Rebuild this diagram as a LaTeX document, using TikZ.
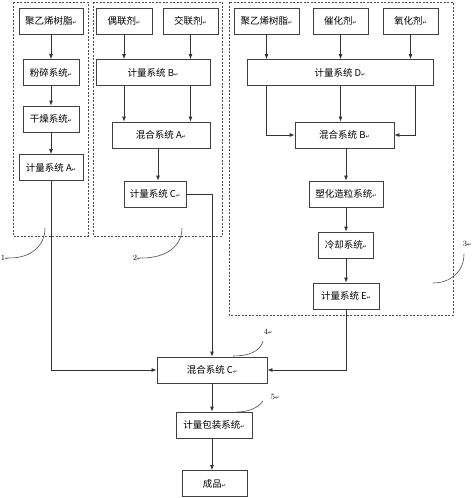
\documentclass[tikz,border=0pt]{standalone}
\usepackage{fontspec}
\newfontfamily\cjk{Noto Sans CJK SC}
\newfontfamily\simbolo{DejaVu Sans}
\usetikzlibrary{arrows.meta}
\newcommand{\retorno}{{\simbolo\fontsize{5}{5}\selectfont ↵}}

\begin{document}
\begin{tikzpicture}[x=1pt,y=-1pt,
    caja/.style={draw=black!75,line width=0.8pt,minimum height=26pt,inner sep=0pt,
      font=\cjk\fontsize{9.5}{10}\selectfont},
    flecha/.style={-{Latex[length=5pt,width=4pt]},line width=0.8pt,draw=black!80},
    grupo/.style={draw=black!70,line width=0.7pt,dash pattern=on 2pt off 1.5pt},
    guia/.style={line width=0.6pt,draw=black!70},
    marca/.style={inner sep=0pt,font=\fontsize{8}{9}\selectfont}]
    \useasboundingbox (0,0) rectangle (474,498);
    % Grupos punteados
    \draw[grupo] (13,2) rectangle (88,236);
    \draw[grupo] (93,2) rectangle (222,236);
    \draw[grupo] (229,2) rectangle (453,315);
    % Linea de resina
    \node[caja,minimum width=64pt] (resina1) at (51,21) {聚乙烯树脂\retorno};
    \node[caja,minimum width=56pt] (polvo) at (51,72.5) {粉碎系统\retorno};
    \node[caja,minimum width=56pt] (seco) at (51,119) {干燥系统\retorno};
    \node[caja,minimum width=64pt] (medA) at (51,167.5) {计量系统 A\retorno};
    % Linea de aditivos
    \node[caja,minimum width=56pt] (acopl) at (124,21) {偶联剂\retorno};
    \node[caja,minimum width=55pt] (reticul) at (190.5,21) {交联剂\retorno};
    \node[caja,minimum width=114pt] (medB) at (153,72.5) {计量系统 B\retorno};
    \node[caja,minimum width=98pt] (mezA) at (161,135) {混合系统 A\retorno};
    \node[caja,minimum width=62pt] (medC) at (155,194) {计量系统 C\retorno};
    % Linea de granulado
    \node[caja,minimum width=65pt] (resina2) at (266.5,21) {聚乙烯树脂\retorno};
    \node[caja,minimum width=55pt] (catal) at (340.5,21) {催化剂\retorno};
    \node[caja,minimum width=55pt] (oxid) at (410.5,21) {氧化剂\retorno};
    \node[caja,minimum width=186pt] (medD) at (340,72.5) {计量系统 D\retorno};
    \node[caja,minimum width=99pt] (mezB) at (344.5,135) {混合系统 B\retorno};
    \node[caja,minimum width=74pt] (plast) at (346,194) {塑化造粒系统\retorno};
    \node[caja,minimum width=55pt] (enfr) at (346,245) {冷却系统\retorno};
    \node[caja,minimum width=66pt] (medE) at (346,296) {计量系统 E\retorno};
    % Salida comun
    \node[caja,minimum width=110pt] (mezC) at (212,370) {混合系统 C\retorno};
    \node[caja,minimum width=76pt] (paq) at (214,425) {计量包装系统\retorno};
    \node[caja,minimum width=65pt] (prod) at (214.5,483.5) {成品\retorno};
    % Flechas
    \draw[flecha] (resina1) -- (polvo);
    \draw[flecha] (polvo) -- (seco);
    \draw[flecha] (seco) -- (medA);
    \draw[flecha] (acopl.south) -- (acopl.south |- medB.north);
    \draw[flecha] (reticul.south) -- (reticul.south |- medB.north);
    \draw[flecha] (acopl.south |- medB.south) -- (acopl.south |- mezA.north);
    \draw[flecha] (reticul.south |- medB.south) -- (reticul.south |- mezA.north);
    \draw[flecha] ([xshift=3pt]medC.north |- mezA.south) -- ([xshift=3pt]medC.north);
    \draw[flecha] (resina2.south) -- (resina2.south |- medD.north);
    \draw[flecha] (catal.south) -- (catal.south |- medD.north);
    \draw[flecha] (oxid.south) -- (oxid.south |- medD.north);
    \draw[flecha] (resina2.south |- medD.south) |- (mezB.west);
    \draw[flecha] (catal.south |- medD.south) -- (catal.south |- mezB.north);
    \draw[flecha] ([xshift=4.5pt]oxid.south |- medD.south) |- (mezB.east);
    \draw[flecha] (plast.north |- mezB.south) -- (plast.north);
    \draw[flecha] (plast) -- (enfr);
    \draw[flecha] (enfr) -- (medE);
    \draw[flecha] (medA.south) |- (mezC.west);
    \draw[flecha] (medC.east) -| (mezC.north);
    \draw[flecha] (medE.south) |- (mezC.east);
    \draw[flecha] (mezC.south) -- (mezC.south |- paq.north);
    \draw[flecha] (mezC.south |- paq.south) -- (mezC.south |- prod.north);
    % Numeros de referencia
    \node[marca] (num1) at (5,258) {1\retorno};
    \node[marca] (num2) at (137,258) {2\retorno};
    \node[marca] (num3) at (467,244) {3\retorno};
    \node[marca] (num4) at (268,332) {4\retorno};
    \node[marca] (num5) at (275,397) {5\retorno};
    \coordinate (fin1) at (45,228);
    \coordinate (fin2) at (182,228);
    \coordinate (fin3) at (433,283);
    \coordinate (fin4) at (233,356);
    \coordinate (fin5) at (237,412);
    \draw[guia] (num1.east) .. controls (32,258) and (45,245) .. (fin1);
    \draw[guia] (num2.east) .. controls (168,258) and (182,245) .. (fin2);
    \draw[guia] (464,254) .. controls (464,272) and (450,283) .. (fin3);
    \draw[guia] (263,341) .. controls (260,352) and (248,356) .. (fin4);
    \draw[guia] (263,401) .. controls (258,408) and (248,412) .. (fin5);
\end{tikzpicture}
\end{document}
